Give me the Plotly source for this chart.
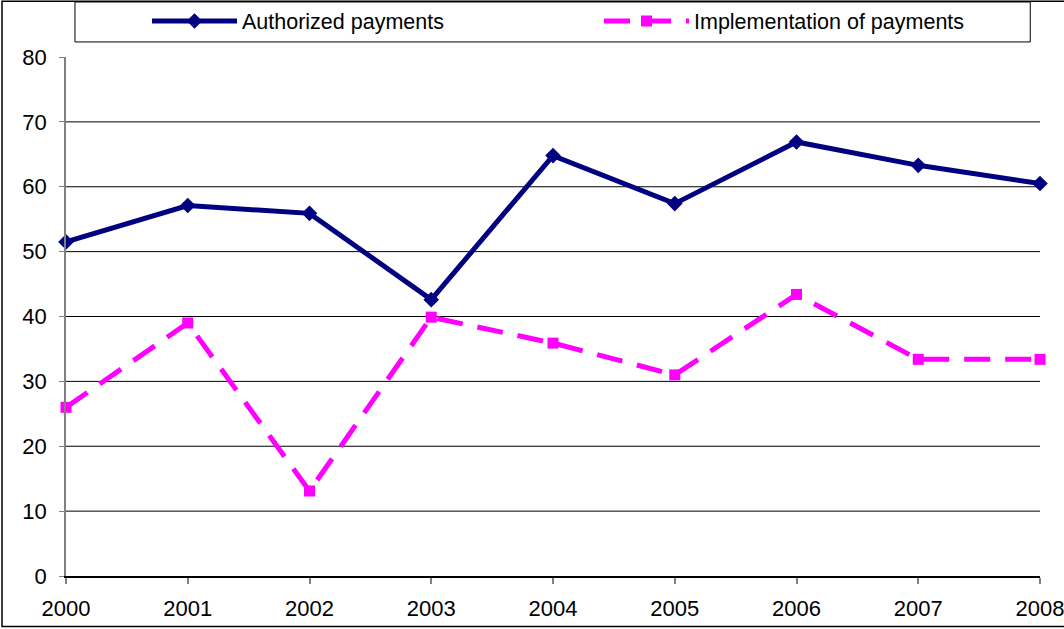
import plotly.graph_objects as go

years = [2000, 2001, 2002, 2003, 2004, 2005, 2006, 2007, 2008]
authorized = [51.5, 57.1, 55.9, 42.6, 64.8, 57.4, 66.9, 63.3, 60.5]
implementation = [26.0, 39.0, 13.1, 39.9, 35.9, 31.0, 43.4, 33.4, 33.4]
y_ticks = [0, 10, 20, 30, 40, 50, 60, 70, 80]
grid_vals = [10, 20, 30, 40, 50, 60, 70]

font_family = "Liberation Sans, Arial, sans-serif"

fig = go.Figure()

fig.add_trace(go.Scatter(
    x=years, y=authorized, name="Authorized payments",
    mode="lines+markers", cliponaxis=False, legend="legend",
    line=dict(color="#000080", width=5),
    marker=dict(symbol="diamond", size=12, color="#000080")
))

fig.add_trace(go.Scatter(
    x=years, y=implementation, name="Implementation of payments",
    mode="lines+markers", cliponaxis=False, legend="legend2",
    line=dict(color="#FF00FF", width=5, dash="26px,15px"),
    marker=dict(symbol="square", size=11, color="#FF00FF")
))

# horizontal grid lines (none at the top)
for g in grid_vals:
    fig.add_shape(type="line", xref="paper", yref="y", x0=0, x1=1, y0=g, y1=g,
                  line=dict(color="black", width=1), layer="below")

# legend box
fig.add_shape(type="rect", xref="paper", yref="paper",
              x0=0.0092, x1=0.99, y0=1.029, y1=1.106,
              line=dict(color="black", width=1), fillcolor="white", layer="below")

# outer chart border
fig.add_shape(type="rect", xref="paper", yref="paper",
              x0=-0.0657, x1=1.0585, y0=-0.0975, y1=1.1075,
              line=dict(color="black", width=1.5))

leg = dict(orientation="h", xref="container", yref="container",
           y=1 - 21 / 629, xanchor="left", yanchor="middle",
           itemwidth=85, bgcolor="rgba(0,0,0,0)", font=dict(size=21.5))

fig.update_layout(
    width=1064, height=629,
    margin=dict(l=66, r=24, t=57, b=53, autoexpand=False),
    paper_bgcolor="white", plot_bgcolor="white",
    font=dict(family=font_family, size=22, color="black"),
    showlegend=True,
    legend=dict(leg, x=147 / 1064),
    legend2=dict(leg, x=599 / 1064),
)

fig.update_xaxes(
    range=[2000, 2008], tickvals=years, ticktext=[str(y) for y in years],
    showgrid=False, zeroline=False, automargin=False,
    showline=True, linecolor="black", linewidth=1.5,
    ticks="outside", ticklen=6, tickcolor="gray", tickwidth=1.5,
    ticklabelstandoff=6, ticklabeloverflow="allow",
)
fig.update_yaxes(
    range=[0, 80], tickvals=y_ticks,
    showgrid=False, zeroline=False, automargin=False,
    showline=True, linecolor="gray", linewidth=1.5,
    ticks="outside", ticklen=5, tickcolor="gray", tickwidth=1,
    ticklabelstandoff=8,
)

fig.write_html("out.html", config={"displayModeBar": False},
               post_script="document.body.style.margin='0';")
